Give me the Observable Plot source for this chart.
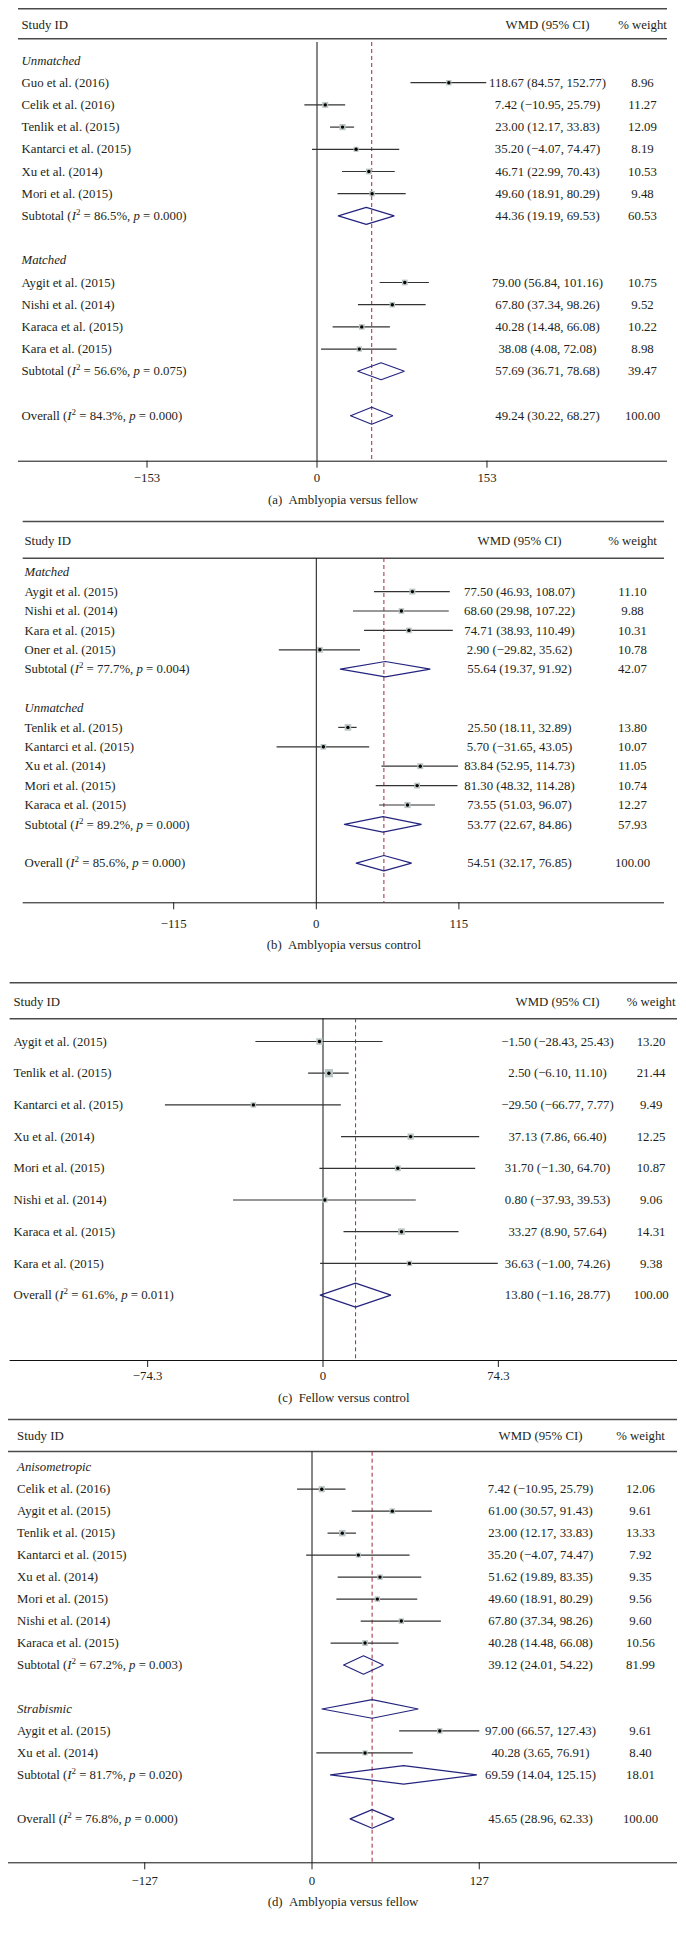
<!DOCTYPE html>
<html><head><meta charset="utf-8">
<script src="https://cdn.jsdelivr.net/npm/d3@7"></script>
<script src="https://cdn.jsdelivr.net/npm/@observablehq/plot@0.6"></script>
<style>
body{margin:0;background:#fff;}
#chart{width:686px;}
#chart svg{display:block;}
</style></head><body><div id="chart"></div>
<script>
// ---------- DATA ----------
// (a) Amblyopia versus fellow
const aLabels = ["#Unmatched","Guo et al. (2016)","Celik et al. (2016)","Tenlik et al. (2015)","Kantarci et al. (2015)","Xu et al. (2014)","Mori et al. (2015)","Subtotal (I² = 86.5%, p = 0.000)","","#Matched","Aygit et al. (2015)","Nishi et al. (2014)","Karaca et al. (2015)","Kara et al. (2015)","Subtotal (I² = 56.6%, p = 0.075)","","Overall (I² = 84.3%, p = 0.000)"];
const aEst = [null,118.67,7.42,23.00,35.20,46.71,49.60,44.36,null,null,79.00,67.80,40.28,38.08,57.69,null,49.24];
const aLo  = [null,84.57,-10.95,12.17,-4.07,22.99,18.91,19.19,null,null,56.84,37.34,14.48,4.08,36.71,null,30.22];
const aHi  = [null,152.77,25.79,33.83,74.47,70.43,80.29,69.53,null,null,101.16,98.26,66.08,72.08,78.68,null,68.27];
const aWt  = [null,8.96,11.27,12.09,8.19,10.53,9.48,60.53,null,null,10.75,9.52,10.22,8.98,39.47,null,100.00];
const aTicks = [-153,0,153];
const aCaption = "(a)\u2002Amblyopia versus fellow";

// (b) Amblyopia versus control
const bLabels = ["#Matched","Aygit et al. (2015)","Nishi et al. (2014)","Kara et al. (2015)","Oner et al. (2015)","Subtotal (I² = 77.7%, p = 0.004)","","#Unmatched","Tenlik et al. (2015)","Kantarci et al. (2015)","Xu et al. (2014)","Mori et al. (2015)","Karaca et al. (2015)","Subtotal (I² = 89.2%, p = 0.000)","","Overall (I² = 85.6%, p = 0.000)"];
const bEst = [null,77.50,68.60,74.71,2.90,55.64,null,null,25.50,5.70,83.84,81.30,73.55,53.77,null,54.51];
const bLo  = [null,46.93,29.98,38.93,-29.82,19.37,null,null,18.11,-31.65,52.95,48.32,51.03,22.67,null,32.17];
const bHi  = [null,108.07,107.22,110.49,35.62,91.92,null,null,32.89,43.05,114.73,114.28,96.07,84.86,null,76.85];
const bWt  = [null,11.10,9.88,10.31,10.78,42.07,null,null,13.80,10.07,11.05,10.74,12.27,57.93,null,100.00];
const bTicks = [-115,0,115];
const bCaption = "(b)\u2002Amblyopia versus control";

// (c) Fellow versus control
const cLabels = ["Aygit et al. (2015)","Tenlik et al. (2015)","Kantarci et al. (2015)","Xu et al. (2014)","Mori et al. (2015)","Nishi et al. (2014)","Karaca et al. (2015)","Kara et al. (2015)","Overall (I² = 61.6%, p = 0.011)"];
const cEst = [-1.50,2.50,-29.50,37.13,31.70,0.80,33.27,36.63,13.80];
const cLo  = [-28.43,-6.10,-66.77,7.86,-1.30,-37.93,8.90,-1.00,-1.16];
const cHi  = [25.43,11.10,7.77,66.40,64.70,39.53,57.64,74.26,28.77];
const cWt  = [13.20,21.44,9.49,12.25,10.87,9.06,14.31,9.38,100.00];
const cTicks = [-74.3,0,74.3];
const cCaption = "(c)\u2002Fellow versus control";

// (d) Amblyopia versus fellow (by type)
const dLabels = ["#Anisometropic","Celik et al. (2016)","Aygit et al. (2015)","Tenlik et al. (2015)","Kantarci et al. (2015)","Xu et al. (2014)","Mori et al. (2015)","Nishi et al. (2014)","Karaca et al. (2015)","Subtotal (I² = 67.2%, p = 0.003)","","#Strabismic","Aygit et al. (2015)","Xu et al. (2014)","Subtotal (I² = 81.7%, p = 0.020)","","Overall (I² = 76.8%, p = 0.000)"];
const dEst = [null,7.42,61.00,23.00,35.20,51.62,49.60,67.80,40.28,39.12,null,null,97.00,40.28,69.59,null,45.65];
const dLo  = [null,-10.95,30.57,12.17,-4.07,19.89,18.91,37.34,14.48,24.01,null,null,66.57,3.65,14.04,null,28.96];
const dHi  = [null,25.79,91.43,33.83,74.47,83.35,80.29,98.26,66.08,54.22,null,null,127.43,76.91,125.15,null,62.33];
const dWt  = [null,12.06,9.61,13.33,7.92,9.35,9.56,9.60,10.56,81.99,null,null,9.61,8.40,18.01,null,100.00];
const dStray = [{i: 11, est: 45.65, lo: 7.6, hi: 80.7}]; // stray diamond drawn on the "Strabismic" row
const dTicks = [-127,0,127];
const dCaption = "(d)\u2002Amblyopia versus fellow";

const headers = ["Study ID", "WMD (95% CI)", "% weight"];

// ---------- LAYOUT (pixels) ----------
const layouts = {
  a: {height:515, left:18, right:667, topLine:8.3, headY:24, headLine:38.3, frameTop:42, y0:60, step:22.2, axisY:460.7, tickPad:5, capDy:42.3, zero:316.5, ppu:1.111, nameX:21, wmdX:547, wtX:642, dh:8.5},
  b: {height:460, left:22.7, right:664, topLine:6, headY:25.7, headLine:42.7, frameTop:43, y0:56.7, step:19.4, axisY:387.3, tickPad:9, capDy:46, zero:315.8, ppu:1.24, nameX:24, wmdX:519, wtX:632, dh:7.7},
  c: {height:437, left:9.6, right:677, topLine:7.3, headY:26.7, headLine:43.3, frameTop:43.3, y0:66, step:31.7, axisY:385, tickPad:3.5, capDy:41, zero:322.5, ppu:2.36, nameX:13, wmdX:557, wtX:650.6, dh:12},
  d: {height:521, left:8, right:677, topLine:7, headY:23.7, headLine:39, frameTop:39.7, y0:54.7, step:21.98, axisY:450.3, tickPad:6, capDy:43.4, zero:311.5, ppu:1.317, nameX:16.6, wmdX:540, wtX:640, dh:9.3}
};

const NAVY = "#24247e", RED = "#9e2a3c", BOX = "#b9c4c4", INK = "#231f20";
const fmt = v => (v < 0 ? "\u2212" : "") + Math.abs(v).toFixed(2);
const tickFmt = v => (v < 0 ? "\u2212" : "") + Math.abs(v);

function forest(P, L) {
  const rows = P.labels.map((lab, i) => ({i, lab, est: P.est[i], lo: P.lo[i], hi: P.hi[i], wt: P.wt[i]}));
  const groups = rows.filter(r => r.lab.startsWith("#")).map(r => ({...r, lab: r.lab.slice(1)}));
  const isPooled = r => /^(Subtotal|Overall)/.test(r.lab);
  const valued = rows.filter(r => r.est != null);
  const studies = valued.filter(r => !isPooled(r));
  const pooled = valued.filter(isPooled);
  const named = rows.filter(r => r.lab && !r.lab.startsWith("#"));
  const overall = valued[valued.length - 1].est;
  const yr = px => (px - L.y0) / L.step;
  const hh = L.dh / L.step;
  const diamonds = [...pooled, ...(P.extra || [])].flatMap((d, k) => [
    {k, x: d.lo, y: d.i}, {k, x: d.est, y: d.i - hh}, {k, x: d.hi, y: d.i},
    {k, x: d.est, y: d.i + hh}, {k, x: d.lo, y: d.i}
  ]);
  const n = P.labels.length;
  const W = 686;
  const svg = Plot.plot({
    width: W, height: L.height,
    marginLeft: L.left, marginRight: W - L.right, marginTop: L.frameTop, marginBottom: L.height - L.axisY,
    style: {fontFamily: "'Liberation Serif','Times New Roman',serif", fontSize: "12.8px", color: INK, background: "#fff"},
    x: {domain: [P.ticks[0], P.ticks[2]], range: [L.zero + P.ticks[0] * L.ppu, L.zero + P.ticks[2] * L.ppu],
        ticks: P.ticks, tickSize: 7, tickPadding: L.tickPad, tickFormat: tickFmt, label: null},
    y: {domain: [0, n - 1], range: [L.y0, L.y0 + (n - 1) * L.step], axis: null},
    r: {domain: [0, 25], range: [0, 5]},
    marks: [
      Plot.ruleY([yr(L.topLine), yr(L.headLine)], {stroke: "#4a4a4a", strokeWidth: 1.4}),
      Plot.ruleY([yr(L.axisY)], {stroke: "#111", strokeWidth: 1}),
      Plot.ruleX([0], {stroke: "#111", strokeWidth: 1}),
      Plot.ruleX([overall], {stroke: RED, strokeWidth: 1, strokeDasharray: "4,3"}),
      Plot.ruleY(studies, {y: "i", x1: "lo", x2: "hi", stroke: "#333", strokeWidth: 1.2}),
      Plot.dot(studies, {x: "est", y: "i", r: "wt", symbol: "square", fill: BOX, stroke: "none"}),
      Plot.dot(studies, {x: "est", y: "i", r: 1.7, fill: "#000", stroke: "none"}),
      Plot.line(diamonds, {x: "x", y: "y", z: "k", stroke: NAVY, strokeWidth: 1.2, strokeLinejoin: "miter"}),
      Plot.text([headers[0]], {text: d => d, y: () => yr(L.headY), frameAnchor: "left", dx: L.nameX - L.left, textAnchor: "start", fill: INK}),
      Plot.text([headers[1]], {text: d => d, y: () => yr(L.headY), frameAnchor: "left", dx: L.wmdX - L.left, textAnchor: "middle", fill: INK}),
      Plot.text([headers[2]], {text: d => d, y: () => yr(L.headY), frameAnchor: "left", dx: L.wtX - L.left, textAnchor: "middle", fill: INK}),
      Plot.text(named, {y: "i", text: "lab", frameAnchor: "left", dx: L.nameX - L.left, textAnchor: "start", fill: INK}),
      Plot.text(groups, {y: "i", text: "lab", frameAnchor: "left", dx: L.nameX - L.left, textAnchor: "start", fontStyle: "italic", fill: INK}),
      Plot.text(valued, {y: "i", text: d => `${fmt(d.est)} (${fmt(d.lo)}, ${fmt(d.hi)})`, frameAnchor: "left", dx: L.wmdX - L.left, textAnchor: "middle", fill: INK}),
      Plot.text(valued, {y: "i", text: d => d.wt.toFixed(2), frameAnchor: "left", dx: L.wtX - L.left, textAnchor: "middle", fill: INK}),
      Plot.text([P.caption], {text: d => d, frameAnchor: "bottom", dy: L.capDy, fill: INK})
    ]
  });
  // italic I, superscript 2, italic p in heterogeneity labels
  svg.querySelectorAll("text").forEach(t => {
    const s = t.textContent;
    const m = s.match(/^(.*?\()I² = (.*?), p = (.*)$/);
    if (m && t.children.length === 0) {
      t.innerHTML = `${m[1]}<tspan font-style="italic">I</tspan><tspan dy="-5" font-size="9">2</tspan><tspan dy="5"> = ${m[2]}, </tspan><tspan font-style="italic">p</tspan> = ${m[3]}`;
    }
  });
  return svg;
}

const chart = document.getElementById("chart");
chart.appendChild(forest({labels: aLabels, est: aEst, lo: aLo, hi: aHi, wt: aWt, ticks: aTicks, caption: aCaption}, layouts.a));
chart.appendChild(forest({labels: bLabels, est: bEst, lo: bLo, hi: bHi, wt: bWt, ticks: bTicks, caption: bCaption}, layouts.b));
chart.appendChild(forest({labels: cLabels, est: cEst, lo: cLo, hi: cHi, wt: cWt, ticks: cTicks, caption: cCaption}, layouts.c));
chart.appendChild(forest({labels: dLabels, est: dEst, lo: dLo, hi: dHi, wt: dWt, ticks: dTicks, caption: dCaption, extra: dStray}, layouts.d));
</script></body></html>
